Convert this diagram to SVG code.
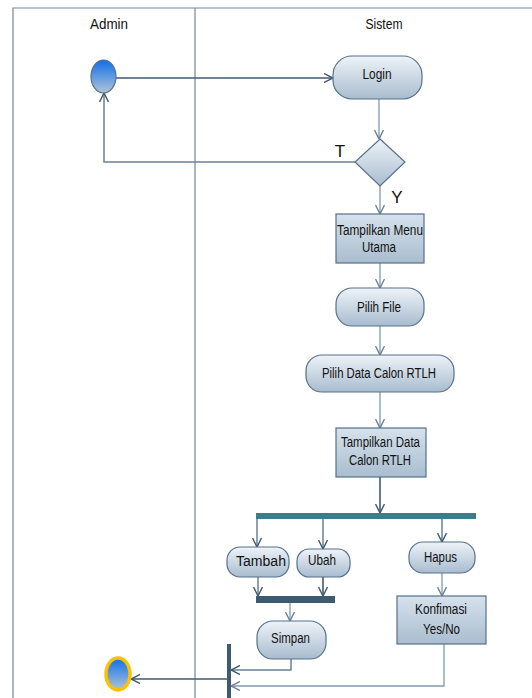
<svg xmlns="http://www.w3.org/2000/svg" width="532" height="698" viewBox="0 0 532 698">
<style>
.frame{fill:none;stroke:#75879a;stroke-width:1.2}
.node{stroke:#56718b;stroke-width:1.2}
.act{fill:url(#gAct)}
.box{fill:url(#gBox)}
.lbl{font-family:"Liberation Sans",Arial,sans-serif;font-size:14px;fill:#111;text-anchor:middle}
.hdr{font-family:"Liberation Sans",Arial,sans-serif;font-size:15px;fill:#111;text-anchor:middle}
.big{font-family:"Liberation Sans",Arial,sans-serif;font-size:17px;fill:#111;text-anchor:middle}
.cd{fill:none;stroke:#3f5a72;stroke-width:1.6;marker-end:url(#aD)}
.cl{fill:none;stroke:#8299ad;stroke-width:1.3;marker-end:url(#aL)}
.cm{fill:none;stroke:#6b8398;stroke-width:1.5;marker-end:url(#aD)}
.cn{fill:none;stroke:#3f5a72;stroke-width:1.6}
</style>
<defs>
<linearGradient id="gAct" x1="0" y1="0" x2="0" y2="1">
<stop offset="0" stop-color="#eef3f8"/>
<stop offset="1" stop-color="#a8bccf"/>
</linearGradient>
<linearGradient id="gBox" x1="0" y1="0" x2="0" y2="1">
<stop offset="0" stop-color="#d6e2ec"/>
<stop offset="1" stop-color="#a9bdcf"/>
</linearGradient>
<linearGradient id="gDot" x1="0" y1="0" x2="0" y2="1">
<stop offset="0" stop-color="#106ee8"/>
<stop offset="1" stop-color="#b0c4d8"/>
</linearGradient>
<marker id="aD" viewBox="0 0 10 10" refX="10" refY="5" markerWidth="9" markerHeight="10" markerUnits="userSpaceOnUse" orient="auto">
<path d="M0,0 L10,5 L0,10" fill="none" stroke="#3f5a72" stroke-width="1.6"/>
</marker>
<marker id="aL" viewBox="0 0 10 10" refX="10" refY="5" markerWidth="9" markerHeight="10" markerUnits="userSpaceOnUse" orient="auto">
<path d="M0,0 L10,5 L0,10" fill="none" stroke="#6b8398" stroke-width="1.6"/>
</marker>
</defs>
<rect width="532" height="698" fill="#fff"/>
<g id="swimlanes">
<path class="frame" d="M13,698 V8 H532 M195,8 V698"/>
<text class="hdr" x="109" y="29" textLength="38" lengthAdjust="spacingAndGlyphs">Admin</text>
<text class="hdr" x="384" y="29" textLength="37" lengthAdjust="spacingAndGlyphs">Sistem</text>
</g>
<g id="connectors">
<path class="cd" d="M116,78 H333"/>
<path class="cl" d="M379,99 V139"/>
<path class="cm" d="M355,162 H104 V93"/>
<path class="cl" d="M380,186 V214"/>
<path class="cl" d="M380,263 V288"/>
<path class="cl" d="M380,326 V355"/>
<path class="cl" d="M380,392 V428"/>
<path class="cd" d="M380,477 V513"/>
<path class="cm" d="M257,519 V547"/>
<path class="cm" d="M323,519 V549"/>
<path class="cm" d="M442,519 V542"/>
<path class="cm" d="M258,577 V596"/>
<path class="cd" d="M323,577 V596"/>
<path class="cl" d="M290,603 V621"/>
<path class="cl" d="M442,573 V596"/>
<path class="cm" d="M291,659 V670 H231"/>
<path class="cl" d="M444,644 V686 H231"/>
<path class="cd" d="M227,679 H131"/>
<text class="big" x="340" y="157">T</text>
<text class="big" x="397" y="203">Y</text>
</g>
<g id="start">
<ellipse cx="103.5" cy="76.5" rx="12.5" ry="16.5" fill="url(#gDot)" stroke="#56718b" stroke-width="1.2"/>
</g>
<g id="login">
<rect class="node act" x="333" y="56" width="89" height="43" rx="19"/>
<text class="lbl" x="377" y="79" textLength="29" lengthAdjust="spacingAndGlyphs">Login</text>
</g>
<g id="decision">
<polygon class="node act" points="380,139 405,162 380,186 355,162"/>
</g>
<g id="menu">
<rect class="node box" x="336" y="214" width="88" height="49"/>
<text class="lbl" x="380" y="235" textLength="86" lengthAdjust="spacingAndGlyphs">Tampilkan Menu</text>
<text class="lbl" x="379" y="252" textLength="34" lengthAdjust="spacingAndGlyphs">Utama</text>
</g>
<g id="pilihFile">
<rect class="node act" x="336" y="288" width="88" height="38" rx="16"/>
<text class="lbl" x="379" y="312" textLength="44" lengthAdjust="spacingAndGlyphs">Pilih File</text>
</g>
<g id="pilihData">
<rect class="node act" x="306" y="355" width="148" height="37" rx="16"/>
<text class="lbl" x="379" y="378" textLength="114" lengthAdjust="spacingAndGlyphs">Pilih Data Calon RTLH</text>
</g>
<g id="tampilData">
<rect class="node box" x="336" y="428" width="90" height="49"/>
<text class="lbl" x="380.5" y="447" textLength="79" lengthAdjust="spacingAndGlyphs">Tampilkan Data</text>
<text class="lbl" x="380" y="465" textLength="62" lengthAdjust="spacingAndGlyphs">Calon RTLH</text>
</g>
<g id="fork">
<rect x="256" y="513" width="220" height="6" fill="#3a7d8d"/>
</g>
<g id="tambah">
<rect class="node act" x="227" y="547" width="62" height="30" rx="13"/>
<text class="lbl" x="261" y="566" textLength="50" lengthAdjust="spacingAndGlyphs">Tambah</text>
</g>
<g id="ubah">
<rect class="node act" x="297" y="549" width="53" height="28" rx="12"/>
<text class="lbl" x="322" y="565" textLength="28" lengthAdjust="spacingAndGlyphs">Ubah</text>
</g>
<g id="hapus">
<rect class="node act" x="409" y="542" width="66" height="31" rx="14"/>
<text class="lbl" x="440.5" y="562" textLength="33" lengthAdjust="spacingAndGlyphs">Hapus</text>
</g>
<g id="join">
<rect x="256" y="596" width="79" height="7" fill="#3d5a70"/>
</g>
<g id="simpan">
<rect class="node act" x="257" y="621" width="69" height="38" rx="16"/>
<text class="lbl" x="290.5" y="643" textLength="39" lengthAdjust="spacingAndGlyphs">Simpan</text>
</g>
<g id="konfirmasi">
<rect class="node box" x="397" y="596" width="89" height="48"/>
<text class="lbl" x="441" y="614" textLength="52" lengthAdjust="spacingAndGlyphs">Konfimasi</text>
<text class="lbl" x="441.5" y="634" textLength="37" lengthAdjust="spacingAndGlyphs">Yes/No</text>
</g>
<g id="merge">
<rect x="227" y="644" width="4" height="54" fill="#3d5a70"/>
</g>
<g id="end">
<ellipse cx="118" cy="674" rx="12" ry="16" fill="url(#gDot)" stroke="#ffc000" stroke-width="3.5"/>
</g>
</svg>
